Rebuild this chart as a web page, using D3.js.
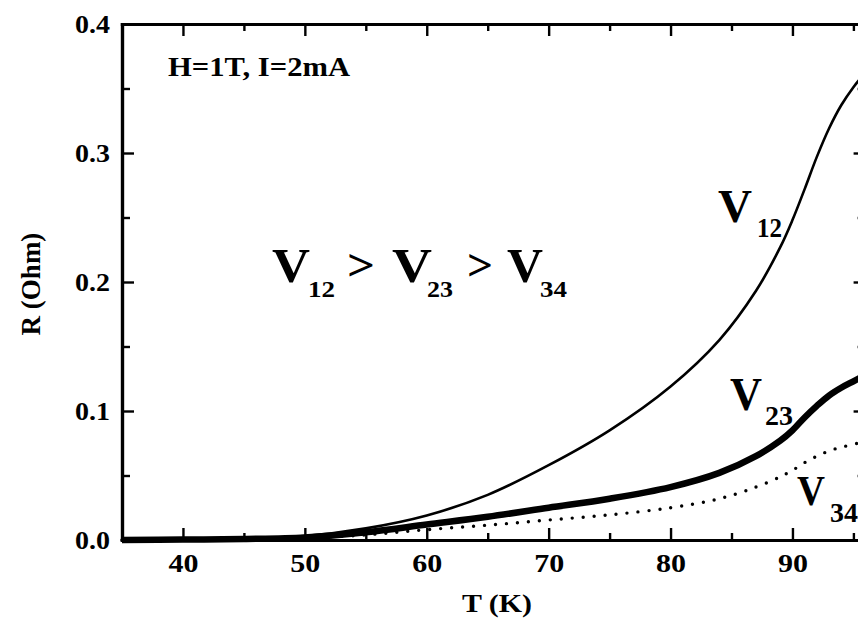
<!DOCTYPE html>
<html>
<head>
<meta charset="utf-8">
<script src="https://cdn.jsdelivr.net/npm/d3@7"></script>
<style>
  body { margin: 0; background: #fff; }
  svg { display: block; }
  text { font-family: "Liberation Serif", "Times New Roman", Times, serif; font-weight: 700; fill: #000; }
</style>
</head>
<body>
<svg id="chart" width="858" height="621"></svg>
<script>
// temperatures (K) and resistances (Ohm)
const temps = [35, 40, 45, 50, 55, 60, 65, 70, 75, 80, 84, 87, 89, 90, 91, 92, 93, 94, 95, 95.6, 96];
const r12 = [0, 0.0005, 0.001, 0.003, 0.009, 0.019, 0.035, 0.058, 0.085, 0.119, 0.155, 0.193, 0.227, 0.248, 0.272, 0.297, 0.319, 0.337, 0.351, 0.358, 0.362];
const r23 = [0, 0.0003, 0.0008, 0.002, 0.006, 0.012, 0.018, 0.025, 0.032, 0.041, 0.052, 0.065, 0.077, 0.085, 0.095, 0.104, 0.112, 0.118, 0.123, 0.126, 0.128];
const r34 = [0, 0.0002, 0.0005, 0.0015, 0.004, 0.008, 0.0115, 0.0155, 0.0195, 0.025, 0.032, 0.041, 0.049, 0.054, 0.06, 0.065, 0.069, 0.072, 0.074, 0.076, 0.077];

const xMajor = [40, 50, 60, 70, 80, 90];
const xMinor = [35, 45, 55, 65, 75, 85, 95];
const yMajor = [0, 0.1, 0.2, 0.3, 0.4];
const yMinor = [0.05, 0.15, 0.25, 0.35];

const svg = d3.select("#chart");

const x = d3.scaleLinear().domain([35, 96]).range([122, 122 + 61 * 12.19]);
const y = d3.scaleLinear().domain([0, 0.4]).range([540, 24]);

const plotL = x.range()[0], plotR = x.range()[1];
const plotT = y.range()[1], plotB = y.range()[0];

// curves
const line = vals => d3.line()
  .x((d, i) => x(temps[i]))
  .y(d => y(d))
  .curve(d3.curveCatmullRom.alpha(0.5))(vals);

const g = svg.append("g");
g.append("path").attr("d", line(r34))
  .attr("fill", "none").attr("stroke", "#000")
  .attr("stroke-width", 3.4).attr("stroke-linecap", "round")
  .attr("stroke-dasharray", "0 11");
g.append("path").attr("d", line(r23))
  .attr("fill", "none").attr("stroke", "#000").attr("stroke-width", 6.5);
g.append("path").attr("d", line(r12))
  .attr("fill", "none").attr("stroke", "#000").attr("stroke-width", 2.6);

// axes (ticks inward on all four sides)
function styleAxis(sel) {
  sel.select(".domain").attr("stroke-width", 3.2);
  sel.selectAll(".tick line").attr("stroke-width", 2.4);
  sel.selectAll("text").style("font-size", "25px").attr("fill", "#000")
    .style("font-family", "'Liberation Serif', 'Times New Roman', serif").style("font-weight", 700);
}

svg.append("g").attr("transform", `translate(0,${plotB})`)
  .call(d3.axisBottom(x).tickValues(xMinor).tickSize(-7).tickSizeOuter(0).tickFormat(""))
  .call(styleAxis);
const xb = svg.append("g").attr("transform", `translate(0,${plotB})`)
  .call(d3.axisBottom(x).tickValues(xMajor).tickSize(-12).tickSizeOuter(0))
  .call(styleAxis);
xb.selectAll("text").attr("y", 32).attr("dy", 0).attr("textLength", 30).attr("lengthAdjust", "spacingAndGlyphs");

svg.append("g").attr("transform", `translate(0,${plotT})`)
  .call(d3.axisTop(x).tickValues(xMinor).tickSize(-7).tickSizeOuter(0).tickFormat(""))
  .call(styleAxis);
svg.append("g").attr("transform", `translate(0,${plotT})`)
  .call(d3.axisTop(x).tickValues(xMajor).tickSize(-12).tickSizeOuter(0).tickFormat(""))
  .call(styleAxis);

svg.append("g").attr("transform", `translate(${plotL},0)`)
  .call(d3.axisLeft(y).tickValues(yMinor).tickSize(-8).tickSizeOuter(0).tickFormat(""))
  .call(styleAxis);
const yl = svg.append("g").attr("transform", `translate(${plotL},0)`)
  .call(d3.axisLeft(y).tickValues(yMajor).tickSize(-12).tickSizeOuter(0).tickPadding(12).tickFormat(d3.format(".1f")))
  .call(styleAxis);
yl.selectAll("text").attr("textLength", 35).attr("lengthAdjust", "spacingAndGlyphs");

svg.append("g").attr("transform", `translate(${plotR},0)`)
  .call(d3.axisRight(y).tickValues(yMinor).tickSize(-8).tickSizeOuter(0).tickFormat(""))
  .call(styleAxis);
svg.append("g").attr("transform", `translate(${plotR},0)`)
  .call(d3.axisRight(y).tickValues(yMajor).tickSize(-12).tickSizeOuter(0).tickFormat(""))
  .call(styleAxis);

svg.selectAll(".domain").attr("stroke-linecap", "square");

// axis titles
svg.append("text").attr("x", 497).attr("y", 612).attr("text-anchor", "middle")
  .style("font-size", "26px").attr("textLength", 70).attr("lengthAdjust", "spacingAndGlyphs")
  .text("T (K)");
svg.append("text").attr("transform", "translate(40,284) rotate(-90)").attr("text-anchor", "middle")
  .style("font-size", "27px").text("R (Ohm)");

// annotations
function piece(t, px, py, size, w) {
  const el = svg.append("text").attr("x", px).attr("y", py).style("font-size", size + "px").text(t);
  if (w) el.attr("textLength", w).attr("lengthAdjust", "spacingAndGlyphs");
  return el;
}
piece("H=1T, I=2mA", 168, 76, 28, 182);

piece("V", 272, 282, 48, 38);
piece("12", 308, 297, 24, 27);
piece(">", 347, 280, 44, 28);
piece("V", 392, 282, 48, 40);
piece("23", 427, 297, 24, 26);
piece(">", 467, 280, 44, 26);
piece("V", 507, 282, 48, 36);
piece("34", 540, 297, 24, 27);

piece("V", 718, 222, 46, 34);
piece("12", 757, 237, 27, 25);
piece("V", 730, 410, 46, 32);
piece("23", 765, 425, 27, 28);
piece("V", 797, 505, 42, 28);
piece("34", 830, 522, 27, 28);
</script>
</body>
</html>
